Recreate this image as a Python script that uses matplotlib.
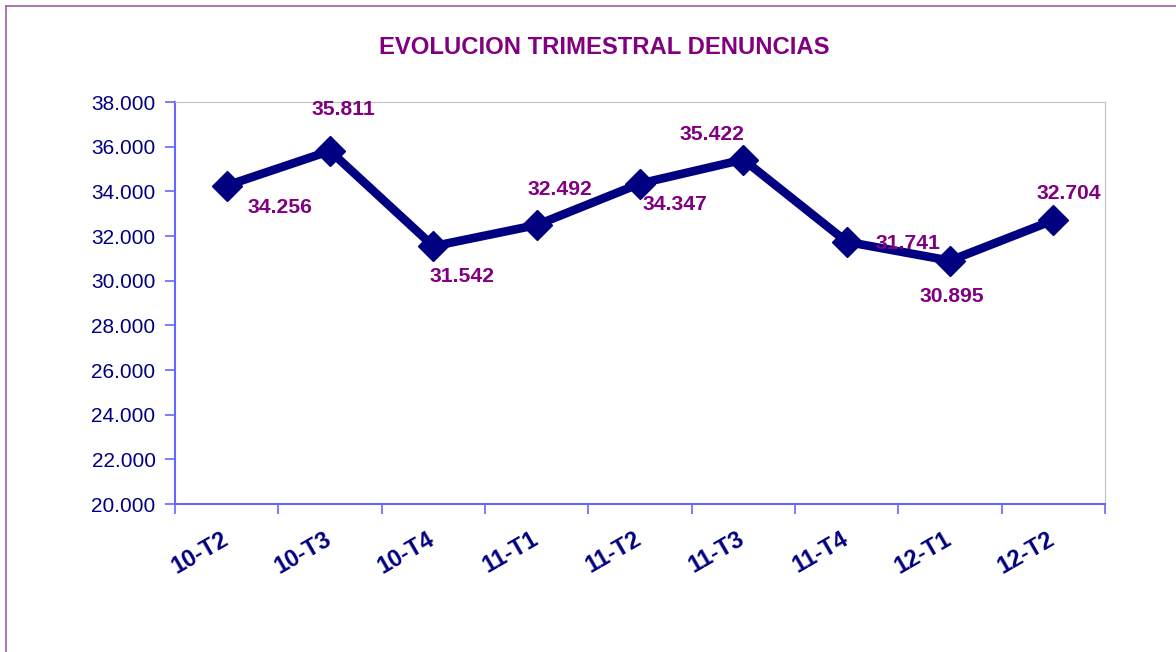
import matplotlib
matplotlib.use("Agg")
import matplotlib.pyplot as plt
from matplotlib.lines import Line2D
from matplotlib.ticker import FuncFormatter, FixedLocator
from matplotlib.transforms import ScaledTranslation

categories = ["10-T2", "10-T3", "10-T4", "11-T1", "11-T2", "11-T3", "11-T4", "12-T1", "12-T2"]
values = [34256, 35811, 31542, 32492, 34347, 35422, 31741, 30895, 32704]
value_labels = ["34.256", "35.811", "31.542", "32.492", "34.347", "35.422", "31.741", "30.895", "32.704"]
label_offsets = [(53, -22), (13, 41), (29, -30), (23, 36), (35, -21), (-31, 25), (61, -2), (2, -36), (16, 27)]
yticks = [20000, 22000, 24000, 26000, 28000, 30000, 32000, 34000, 36000, 38000]

W, H = 1176, 652
fig = plt.figure(figsize=(W / 100, H / 100), dpi=100)
plt.rcParams['font.family'] = ['Liberation Sans', 'DejaVu Sans']

# figure border (left & top)
fig.add_artist(Line2D([6 / W, 6 / W], [0, 1 - 6 / H], transform=fig.transFigure, color="#a060a0", lw=1.2))
fig.add_artist(Line2D([6 / W, 1], [1 - 6 / H, 1 - 6 / H], transform=fig.transFigure, color="#a060a0", lw=1.2))

left, right, top, bottom = 175, 1105, 102, 504
ax = fig.add_axes([left / W, 1 - bottom / H, (right - left) / W, (bottom - top) / H])

x = list(range(len(categories)))
navy = "#000080"
ax.plot(x, values, color=navy, lw=6.2, marker="D", markersize=15, zorder=3)

for xi, v, lab, off in zip(x, values, value_labels, label_offsets):
    ax.annotate(lab, (xi, v), xytext=off, textcoords="offset pixels", ha="center", va="center",
                fontsize=15.2, fontweight="bold", color="#800080", zorder=4)

ax.set_xlim(-0.5, len(categories) - 0.5)
ax.set_ylim(20000, 38000)
ax.set_yticks(yticks)
ax.yaxis.set_major_formatter(FuncFormatter(lambda v, p: f"{int(v):,}".replace(",", ".")))
ax.tick_params(axis="y", labelsize=15, labelcolor=navy, color="#6666ff", length=7, width=1.2, direction="out", pad=7)

ax.set_xticks(x)
ax.set_xticklabels(categories, rotation=30, ha="right", rotation_mode="anchor",
                   fontsize=17, fontweight="bold", color=navy)
ax.tick_params(axis="x", which="major", length=0, pad=17)
shift = ScaledTranslation(-6 / 100, 0, fig.dpi_scale_trans)
for t in ax.get_xticklabels():
    t.set_transform(t.get_transform() + shift)
ax.xaxis.set_minor_locator(FixedLocator([i - 0.5 for i in range(len(categories) + 1)]))
ax.tick_params(axis="x", which="minor", length=7, color="#6666ff", width=1.2, direction="out")

ax.spines["left"].set_color("#6666ff")
ax.spines["bottom"].set_color("#6666ff")
ax.spines["left"].set_linewidth(1.5)
ax.spines["bottom"].set_linewidth(1.5)
ax.spines["top"].set_color("#c0c0c0")
ax.spines["right"].set_color("#c0c0c0")

fig.text(604 / W, 1 - 48 / H, "EVOLUCION TRIMESTRAL DENUNCIAS", ha="center", va="center",
         fontsize=17.2, fontweight="bold", color="#800080")

fig.savefig("out.png", dpi=100)
